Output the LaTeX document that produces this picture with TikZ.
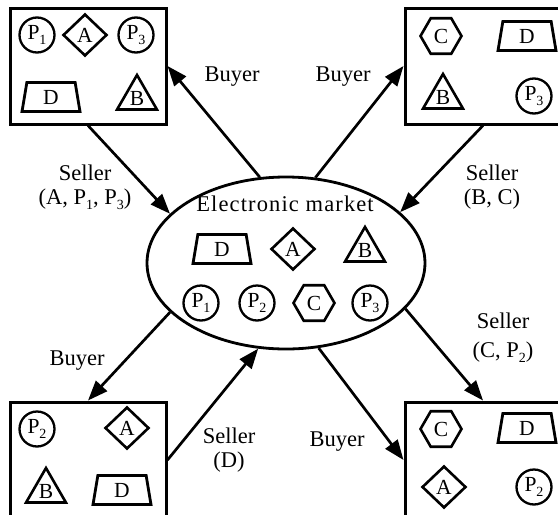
\documentclass[tikz,border=0pt]{standalone}
\usepackage{fontspec}
\setmainfont{Liberation Serif}
\usetikzlibrary{shapes.geometric,arrows.meta}

% P with a lowered index, as used in the item labels
\newcommand{\Pidx}[1]{P\raisebox{-0.22em}{\fontsize{14}{14}\selectfont #1}}

\begin{document}
\begin{tikzpicture}[x=1pt,y=-1pt,
  every node/.style={font=\fontsize{21.5}{23}\selectfont, inner sep=0pt},
  panel/.style={draw, line width=3pt, rectangle, minimum width=156pt, minimum height=116pt},
  market/.style={draw, line width=2.8pt, ellipse, minimum width=278pt, minimum height=172pt},
  itemcirc/.style={draw, line width=2.3pt, circle, minimum size=35pt},
  itemdiam/.style={draw, line width=2.6pt, diamond, minimum width=44pt, minimum height=42pt},
  itemtri/.style={draw, line width=2.6pt, regular polygon, regular polygon sides=3, minimum size=46pt},
  itemhex/.style={draw, line width=2.6pt, regular polygon, regular polygon sides=6, minimum size=41pt},
  itemtrap/.style={draw, line width=2.8pt, trapezium, trapezium left angle=71, trapezium right angle=71,
    trapezium stretches body, minimum width=58pt, minimum height=29pt},
  flow/.style={line width=2.7pt, -{Triangle[length=20pt,width=15pt]}},
  lbl/.style={align=center, font=\fontsize{22.5}{24}\selectfont}
]
\clip (0,0) rectangle (558,515);

% the four trader panels
\node[panel] (tl) at (88,66) {};
\node[panel] (tr) at (483,66) {};
\node[panel] (bl) at (88,460) {};
\node[panel] (br) at (483,460) {};

% the market in the middle
\node[market] (mkt) at (286,263) {};
\node[font=\fontsize{22.5}{24}\selectfont\addfontfeature{LetterSpace=5}] (mktname) at (285,204) {Electronic market};

% items inside the market
\node[itemtrap] (mD) at (222,249) {D};
\node[itemdiam] (mA) at (293,249) {A};
\node[itemtri]  (mB) at (365,250) {B};
\node[itemcirc] (mP1) at (201,303) {\Pidx{1}};
\node[itemcirc] (mP2) at (257,303) {\Pidx{2}};
\node[itemhex]  (mC) at (314,303) {C};
\node[itemcirc] (mP3) at (370,303) {\Pidx{3}};

% top-left panel items
\node[itemcirc] (tlP1) at (37,35) {\Pidx{1}};
\node[itemdiam] (tlA) at (85,35) {A};
\node[itemcirc] (tlP3) at (136,35) {\Pidx{3}};
\node[itemtrap] (tlD) at (51,97) {D};
\node[itemtri]  (tlB) at (137,98) {B};

% top-right panel items
\node[itemhex]  (trC) at (441,36) {C};
\node[itemtrap] (trD) at (527,36) {D};
\node[itemtri]  (trB) at (443,97) {B};
\node[itemcirc] (trP3) at (534,96) {\Pidx{3}};

% bottom-left panel items
\node[itemcirc] (blP2) at (37,429) {\Pidx{2}};
\node[itemdiam] (blA) at (127,428) {A};
\node[itemtri]  (blB) at (46,491) {B};
\node[itemtrap] (blD) at (122,490) {D};

% bottom-right panel items
\node[itemhex]  (brC) at (441,429) {C};
\node[itemtrap] (brD) at (527,428) {D};
\node[itemdiam] (brA) at (444,487) {A};
\node[itemcirc] (brP2) at (534,487) {\Pidx{2}};

% trade flows
\draw[flow] (tl.south) -- (mkt.157);
\draw[flow] (mkt.107) -- (tl.east);
\draw[flow] (mkt.71) -- (tr.west);
\draw[flow] (tr.south) -- (mkt.24);
\draw[flow] (mkt.-21) -- (br.north);
\draw[flow] (mkt.-69) -- (br.west);
\draw[flow] (bl.east) -- (mkt.-108);
\draw[flow] (mkt.-157) -- (bl.north);

% flow labels
\node[lbl] (s1) at (85,187) {Seller\\(A, \Pidx{1}, \Pidx{3})};
\node[lbl] (b1) at (232,77) {Buyer};
\node[lbl] (b2) at (343,77) {Buyer};
\node[lbl] (s2) at (492,187) {Seller\\(B, C)};
\node[lbl] (b3) at (77,361) {Buyer};
\node[lbl] (s3) at (503,338) {Seller\\[5pt](C, \Pidx{2})};
\node[lbl] (s4) at (229,450) {Seller\\(D)};
\node[lbl] (b4) at (337,442) {Buyer};
\end{tikzpicture}
\end{document}
